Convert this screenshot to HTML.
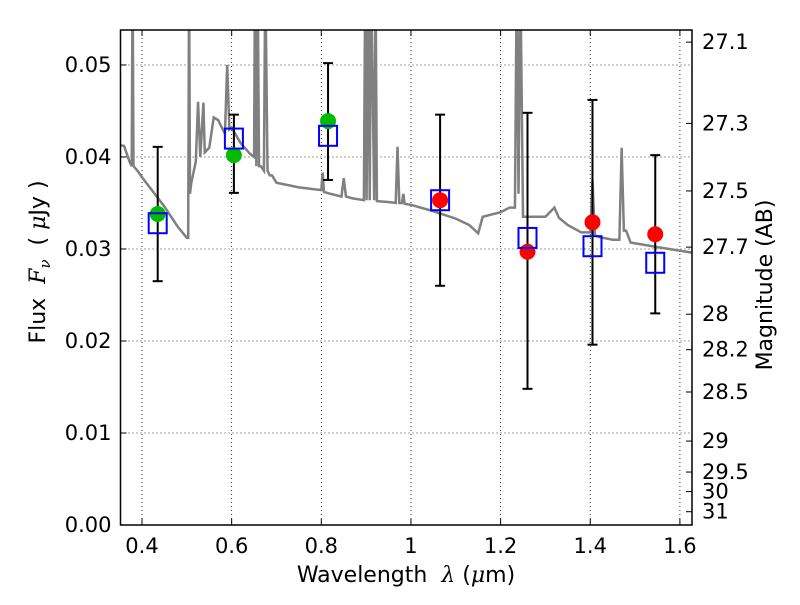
<!DOCTYPE html>
<html><head><meta charset="utf-8"><style>
body{margin:0;background:#fff;}
svg{font-family:"DejaVu Sans","Liberation Sans",sans-serif;}
svg text{white-space:pre;}
</style></head><body>
<svg id="chart" width="800" height="600" xmlns="http://www.w3.org/2000/svg"></svg>
<script>
const xTicks=[0.4,0.6,0.8,1.0,1.2,1.4,1.6];
const xTickLabels=["0.4","0.6","0.8","1","1.2","1.4","1.6"];
const yTicks=[0,0.01,0.02,0.03,0.04,0.05];
const yTickLabels=["0.00","0.01","0.02","0.03","0.04","0.05"];
const magTicks=[27.1,27.3,27.5,27.7,28,28.2,28.5,29,29.5,30,31];
const magTickLabels=["27.1","27.3","27.5","27.7","28","28.2","28.5","29","29.5","30","31"];
const specWave=[0.35,0.36,0.372,0.377,0.379,0.381,0.39,0.4,0.45,0.48,0.5,0.503,0.505,0.507,0.51,0.52,0.525,0.53,0.537,0.54,0.55,0.56,0.57,0.585,0.59,0.595,0.6,0.62,0.64,0.65,0.652,0.655,0.658,0.661,0.665,0.672,0.675,0.68,0.685,0.69,0.7,0.75,0.8,0.803,0.806,0.82,0.845,0.85,0.855,0.87,0.895,0.898,0.901,0.905,0.908,0.911,0.918,0.921,0.924,0.95,0.966,0.97,0.974,0.98,0.983,0.986,1.0,1.05,1.1,1.13,1.15,1.16,1.2,1.22,1.232,1.236,1.24,1.244,1.25,1.3,1.32,1.33,1.35,1.38,1.4,1.405,1.41,1.42,1.45,1.465,1.47,1.475,1.48,1.49,1.55,1.627];
const specFlux=[0.0413,0.0412,0.0395,0.039,0.06,0.039,0.0385,0.0378,0.0346,0.0324,0.0312,0.0312,0.06,0.036,0.0372,0.0395,0.046,0.04,0.0459,0.0405,0.041,0.0443,0.044,0.0425,0.05,0.043,0.0432,0.0415,0.0404,0.04,0.06,0.039,0.06,0.039,0.039,0.0385,0.06,0.0385,0.038,0.038,0.0372,0.0367,0.0364,0.0383,0.0362,0.036,0.0357,0.0377,0.0357,0.0355,0.0353,0.06,0.0353,0.06,0.0353,0.06,0.0353,0.06,0.0352,0.0351,0.035,0.0411,0.035,0.035,0.036,0.0349,0.0348,0.0341,0.0333,0.0326,0.0317,0.0335,0.034,0.0345,0.0345,0.06,0.036,0.06,0.0335,0.0335,0.0345,0.0334,0.0326,0.0318,0.0318,0.0375,0.0315,0.0313,0.031,0.031,0.041,0.032,0.032,0.0307,0.0302,0.0296];
const obsWave=[0.435,0.605,0.815,1.065,1.26,1.405,1.545];
const obsFlux=[0.0338,0.0402,0.0439,0.0353,0.0297,0.0329,0.0316];
const obsColor=["#00bb00","#00bb00","#00bb00","#ff0000","#ff0000","#ff0000","#ff0000"];
const errHigh=[0.0411,0.0446,0.0502,0.0446,0.0448,0.0462,0.0402];
const errLow=[0.0265,0.0361,0.0375,0.026,0.0148,0.0196,0.0230];
const modelFlux=[0.0328,0.042,0.0423,0.0353,0.0312,0.0303,0.0285];

const L=120.5,R=692,T=30,B=525,XMIN=0.352,XMAX=1.627,YMAX=0.0538;
const sx=v=>L+(v-XMIN)/(XMAX-XMIN)*(R-L);
const sy=v=>B-v/YMAX*(B-T);
const magToFlux=m=>Math.pow(10,(23.9-m)/2.5);
const svg=document.getElementById('chart');
const NS="http://www.w3.org/2000/svg";
function mk(tag,attrs,parent){const e=document.createElementNS(NS,tag);for(const k in attrs)e.setAttribute(k,attrs[k]);(parent||svg).appendChild(e);return e;}

const clip=mk('clipPath',{id:'pc'});mk('rect',{x:L,y:T,width:R-L,height:B-T},clip);
xTicks.forEach((v,i)=>{
 const g=mk('line',{x1:sx(v),x2:sx(v),y1:T,y2:B,stroke:'#000','stroke-width':0.8,'stroke-dasharray':'1,3'});
 
 mk('line',{x1:sx(v),x2:sx(v),y1:B,y2:B-6,stroke:'#000'});mk('line',{x1:sx(v),x2:sx(v),y1:T,y2:T+6,stroke:'#000'});
 const t=mk('text',{x:sx(v),y:B+28,'font-size':21,'text-anchor':'middle'});t.textContent=xTickLabels[i];
 
});
yTicks.forEach((v,i)=>{
 const g=mk('line',{x1:L,x2:R,y1:sy(v),y2:sy(v),stroke:'#000','stroke-width':0.8,'stroke-dasharray':'1,3'});
 
 mk('line',{x1:L,x2:L+6,y1:sy(v),y2:sy(v),stroke:'#000'});
 const t=mk('text',{x:L-9,y:sy(v)+7,'font-size':21,'text-anchor':'end'});t.textContent=yTickLabels[i];
 
});
magTicks.forEach((m,i)=>{
 const y=sy(magToFlux(m));
 mk('line',{x1:R,x2:R-6,y1:y,y2:y,stroke:'#000'});
 const t=mk('text',{x:R+10,y:y+7,'font-size':21});t.textContent=magTickLabels[i];
 
});
const sp=mk('polyline',{points:specWave.map((w,i)=>sx(w)+','+sy(specFlux[i])).join(' '),fill:'none',stroke:'#808080','stroke-width':2.5,'clip-path':'url(#pc)'});

obsWave.forEach((w,i)=>{
 const x=sx(w);
 const e=mk('line',{x1:x,x2:x,y1:sy(errHigh[i]),y2:sy(errLow[i]),stroke:'#000','stroke-width':2});
 
 mk('line',{x1:x-5,x2:x+5,y1:sy(errHigh[i]),y2:sy(errHigh[i]),stroke:'#000','stroke-width':2});
 mk('line',{x1:x-5,x2:x+5,y1:sy(errLow[i]),y2:sy(errLow[i]),stroke:'#000','stroke-width':2});
});
obsWave.forEach((w,i)=>{
 const c=mk('circle',{cx:sx(w),cy:sy(obsFlux[i]),r:8,fill:obsColor[i]});
 
});
obsWave.forEach((w,i)=>{
 const r=mk('rect',{x:sx(w)-9,y:sy(modelFlux[i])-10,width:18,height:20,fill:'none',stroke:'#0000ff','stroke-width':2});
 
});
const fr=mk('rect',{x:L,y:T,width:R-L,height:B-T,fill:'none',stroke:'#000','stroke-width':1.5});

const xl=mk('text',{x:406,y:582,'font-size':22,'text-anchor':'middle'});
xl.innerHTML='Wavelength  <tspan font-family="DejaVu Serif" font-style="italic">λ</tspan> (<tspan font-family="DejaVu Serif" font-style="italic">μ</tspan>m)';

const yl=mk('text',{x:0,y:0,'font-size':22,'text-anchor':'middle',transform:'translate(45,262) rotate(-90)'});
yl.innerHTML='Flux  <tspan font-family="DejaVu Serif" font-style="italic">F</tspan><tspan font-family="DejaVu Serif" font-style="italic" font-size="15" dy="5">ν</tspan><tspan dy="-5">  ( </tspan><tspan font-family="DejaVu Serif" font-style="italic">μ</tspan>Jy )';

const ml=mk('text',{x:0,y:0,'font-size':22,'text-anchor':'middle',transform:'translate(772,285) rotate(-90)'});
ml.textContent='Magnitude (AB)';

</script>
</body></html>
